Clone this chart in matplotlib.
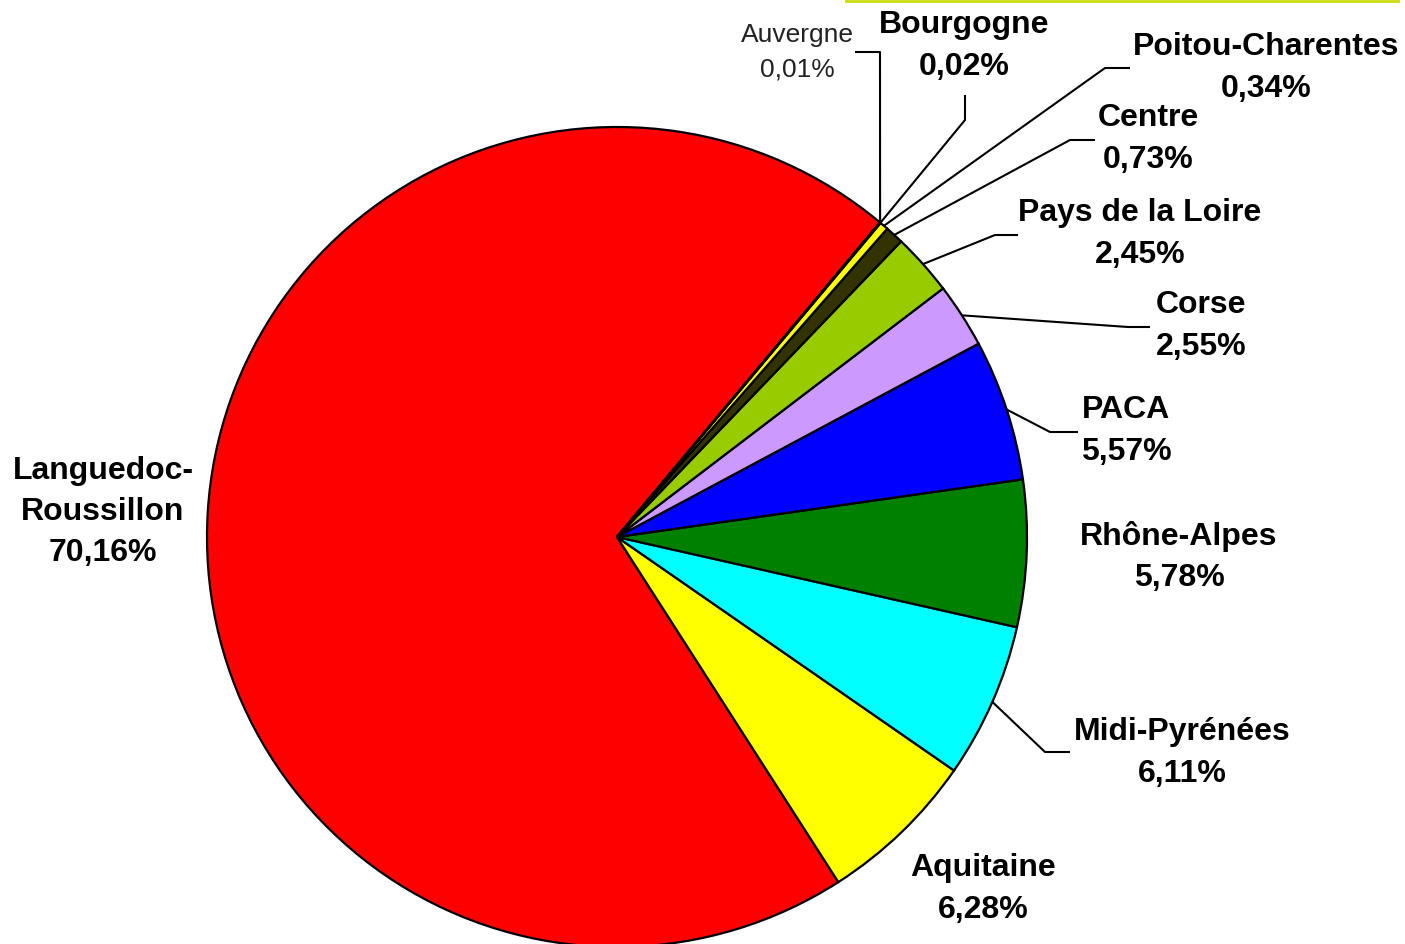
import numpy as np
import matplotlib.pyplot as plt
from matplotlib.patches import Rectangle

plt.rcParams['font.family'] = ['Liberation Sans', 'DejaVu Sans']

# Donnees
regions = ['Languedoc-\nRoussillon', 'Aquitaine', 'Midi-Pyrénées', 'Rhône-Alpes', 'PACA',
           'Corse', 'Pays de la Loire', 'Centre', 'Poitou-Charentes', 'Bourgogne', 'Auvergne']
parts = [70.16, 6.28, 6.11, 5.78, 5.57, 2.55, 2.45, 0.73, 0.34, 0.02, 0.01]
couleurs = ['#FF0000', '#FFFF00', '#00FFFF', '#008000', '#0000FF',
            '#CC99FF', '#99CC00', '#333300', '#FFFF00', '#FFFFCC', '#FFFFFF']

W, H = 1405, 944
cx, cy, rayon = 617, H - 537, 410

# Position des etiquettes (centre du texte, pixels depuis le haut) et coudes des traits
etiquettes = {
    'Languedoc-\nRoussillon': (103, 512, None),
    'Aquitaine': (983, 889, None),
    'Midi-Pyrénées': (1182, 753, [(1045, 752), (1070, 752)]),
    'Rhône-Alpes': (1179, 557, None),
    'PACA': (1126, 431, [(1050, 432), (1078, 432)]),
    'Corse': (1201, 326, [(1128, 327), (1150, 327)]),
    'Pays de la Loire': (1140, 234, [(995, 235), (1018, 235)]),
    'Centre': (1148, 139, [(1070, 140), (1095, 140)]),
    'Poitou-Charentes': (1266, 68, [(1105, 68), (1130, 68)]),
    'Bourgogne': (964, 46, [(965, 120), (965, 95)]),
    'Auvergne': (797, 52, [(880, 52), (855, 52)]),
}

fig = plt.figure(figsize=(W / 100, H / 100), dpi=100)
ax = fig.add_axes([0, 0, 1, 1])

wedges, _ = ax.pie(parts, colors=couleurs, startangle=50.1, counterclock=True,
                   center=(cx, cy), radius=rayon, frame=True,
                   wedgeprops=dict(edgecolor='black', linewidth=1.6))
ax.set_xlim(0, W)
ax.set_ylim(0, H)
ax.set_aspect('equal')
ax.axis('off')

for w, nom, val in zip(wedges, regions, parts):
    tx, ty, coudes = etiquettes[nom]
    texte = nom + '\n' + ('%.2f' % val).replace('.', ',') + '%'
    if nom == 'Auvergne':
        ax.text(tx, H - ty, texte, ha='center', va='center', fontsize=19,
                color='#222222', linespacing=1.56)
    else:
        ax.text(tx, H - ty, texte, ha='center', va='center', fontsize=23,
                fontweight='bold', linespacing=1.5)
    if coudes:
        ang = np.deg2rad((w.theta1 + w.theta2) / 2)
        x0 = cx + rayon * np.cos(ang)
        y0 = cy + rayon * np.sin(ang)
        xs = [x0] + [p[0] for p in coudes]
        ys = [y0] + [H - p[1] for p in coudes]
        ax.plot(xs, ys, color='black', lw=1.5, solid_capstyle='butt')

# bord du cadre jaune coupe en haut
ax.add_patch(Rectangle((845, H - 3), 555, 3, facecolor='#CCDD22', edgecolor='none',
                       clip_on=False))

fig.savefig('out.png', dpi=100)
